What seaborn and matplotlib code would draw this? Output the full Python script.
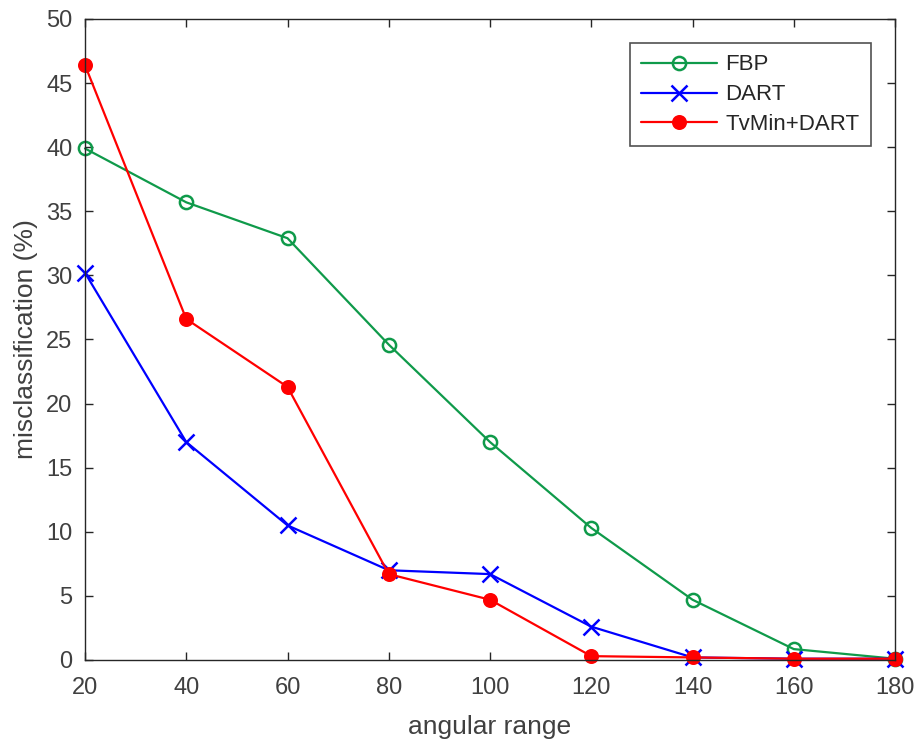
import matplotlib
matplotlib.use("Agg")
import matplotlib.pyplot as plt
import seaborn as sns
import pandas as pd

angles = [20, 40, 60, 80, 100, 120, 140, 160, 180]
fbp = [39.9, 35.7, 32.9, 24.6, 17.0, 10.3, 4.7, 0.85, 0.1]
dart = [30.2, 17.0, 10.5, 7.0, 6.7, 2.6, 0.2, 0.1, 0.1]
tvmin_dart = [46.4, 26.6, 21.3, 6.7, 4.7, 0.3, 0.2, 0.1, 0.1]
series_names = ["FBP", "DART", "TvMin+DART"]
x_ticks = [20, 40, 60, 80, 100, 120, 140, 160, 180]
y_ticks = [0, 5, 10, 15, 20, 25, 30, 35, 40, 45, 50]

sns.set_style("white")
plt.rcParams['font.family'] = ['Liberation Sans', 'DejaVu Sans']

fig = plt.figure(figsize=(9.18, 7.45), dpi=100)
ax = fig.add_axes([0.0926, 0.1141, 0.8824, 0.8604])

colors = ["#0F9A4A", "#0000FF", "#FF0000"]
markers = ["o", "x", "o"]
mfc = ["none", "#0000FF", "#FF0000"]
msizes = [9.5, 12, 9]

for vals, name, c, m, fc, ms in zip([fbp, dart, tvmin_dart], series_names, colors, markers, mfc, msizes):
    df = pd.DataFrame({"angle": angles, "val": vals})
    sns.lineplot(data=df, x="angle", y="val", ax=ax, color=c, linewidth=1.6,
                 marker=m, markersize=ms, markerfacecolor=fc, markeredgecolor=c,
                 markeredgewidth=1.8, label=name, clip_on=False)

ax.set_xlim(20, 180)
ax.set_ylim(0, 50)
ax.set_xticks(x_ticks)
ax.set_yticks(y_ticks)
tc = "#404040"
ax.tick_params(direction="in", length=6, width=1, colors="#262626", labelcolor=tc,
               labelsize=17, top=True, right=True, bottom=True, left=True)
ax.tick_params(axis="x", pad=12)
ax.tick_params(axis="y", pad=9)
for s in ax.spines.values():
    s.set_color("#262626")
    s.set_linewidth(1)
ax.set_xlabel("angular range", fontsize=19, color=tc, labelpad=12)
ax.set_ylabel("misclassification (%)", fontsize=19, color=tc, labelpad=6)

leg = ax.legend(loc="upper right", bbox_to_anchor=(0.97, 0.962), fontsize=16,
                frameon=True, fancybox=False, edgecolor="#262626", handlelength=3.4,
                handletextpad=0.4, borderpad=0.5, labelspacing=0.4, borderaxespad=0)
leg.get_frame().set_linewidth(1.2)
for t in leg.get_texts():
    t.set_color("#262626")

fig.savefig("out.png", dpi=100)
